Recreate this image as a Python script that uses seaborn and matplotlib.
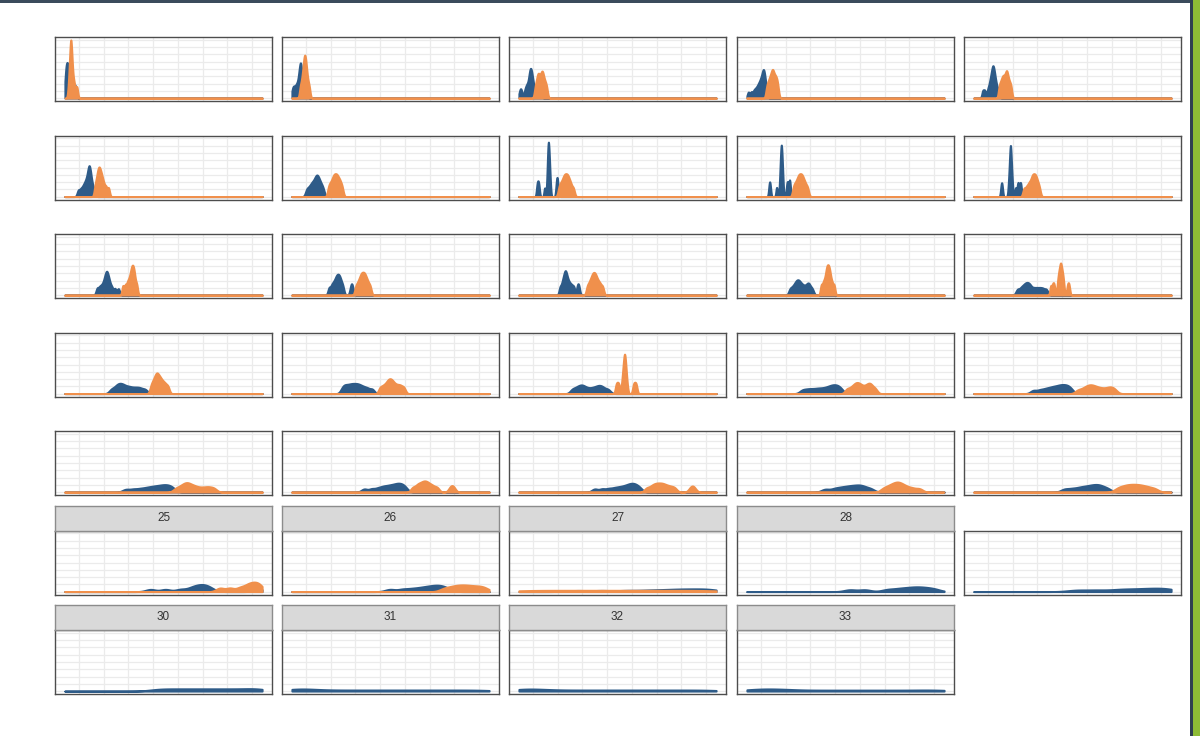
import numpy as np
import pandas as pd
import matplotlib
matplotlib.use("Agg")
import matplotlib.pyplot as plt
import matplotlib.patches as mpatches
import seaborn as sns

# panel ids and which ones show a strip label
panels = list(range(34))
labelled = [25, 26, 27, 28, 30, 31, 32, 33]

blue_vals = [
    [2.3, 2.45, 2.6, 2.75, 2.9, 3.1, 3.3, 3.6, 3.9, 4.3],
    [2.3, 2.55, 2.8, 3.05, 3.25, 3.45, 3.6, 3.7, 3.8, 3.88, 3.95, 4.02, 4.1, 4.2, 4.35, 4.55, 4.85, 5.2],
    [2.4, 2.7, 3.4, 3.7, 3.9, 4.15, 4.3, 4.4, 4.5, 4.6, 4.7, 4.8, 4.95, 5.1, 5.4, 5.9, 6.6],
    [2.5, 3.1, 3.6, 3.95, 4.25, 4.5, 4.7, 4.9, 5.05, 5.2, 5.35, 5.45, 5.55, 5.65, 5.75, 5.9, 6.1],
    [4.0, 4.4, 5.0, 5.3, 5.5, 5.65, 5.8, 5.9, 6.0, 6.1, 6.2, 6.3, 6.45, 6.6, 6.85, 7.2],
    [4.9, 5.4, 5.8, 6.1, 6.35, 6.55, 6.75, 6.9, 7.0, 7.1, 7.2, 7.3, 7.45, 7.65, 8.0],
    [5.2, 5.7, 6.1, 6.4, 6.7, 6.95, 7.15, 7.35, 7.55, 7.8, 8.1, 8.5],
    [5.85, 6.05, 6.25, 7.4, 7.9, 8.0, 8.05, 8.1, 8.15, 8.2, 8.25, 8.3, 8.4, 8.5, 9.75, 9.9, 10.05],
    [6.7, 6.9, 8.2, 8.85, 8.95, 9.05, 9.1, 9.15, 9.2, 9.25, 9.35, 9.45, 10.25, 10.45, 10.75, 10.9],
    [7.7, 7.9, 9.2, 9.35, 9.45, 9.5, 9.55, 9.6, 9.65, 9.7, 9.8, 9.95, 10.6, 11.0, 11.2, 11.5, 11.7],
    [8.7, 9.2, 9.6, 9.95, 10.2, 10.4, 10.55, 10.7, 10.85, 11.05, 11.3, 11.7, 12.3, 13.0],
    [9.7, 10.2, 10.55, 10.85, 11.1, 11.3, 11.5, 11.7, 11.9, 12.15, 12.5, 14.1, 14.4],
    [10.5, 10.9, 11.15, 11.35, 11.5, 11.65, 11.8, 12.0, 12.25, 12.55, 12.9, 13.3, 14.0, 14.3],
    [10.9, 11.4, 11.8, 12.1, 12.35, 12.6, 12.85, 13.15, 13.5, 13.9, 14.3, 14.6, 14.9, 15.4],
    [11.0, 11.7, 12.2, 12.6, 12.95, 13.3, 13.7, 14.3, 14.9, 15.5, 16.1, 16.8],
    [11.6, 12.4, 12.9, 13.3, 13.75, 14.2, 14.8, 15.4, 16.1, 16.8, 17.5, 18.4],
    [12.4, 12.9, 13.4, 13.9, 14.35, 14.8, 15.25, 15.7, 16.2, 16.8, 17.5, 18.4],
    [13.0, 13.8, 14.4, 14.9, 15.4, 16.1, 16.9, 17.6, 18.2, 18.7, 19.3, 20.2],
    [13.4, 14.4, 15.3, 16.2, 17.0, 17.8, 18.5, 19.1, 19.6, 20.1, 20.6, 21.2],
    [14.2, 15.5, 16.5, 17.3, 18.0, 18.6, 19.2, 19.7, 20.2, 20.7, 21.2, 21.8],
    [14.5, 16.0, 17.3, 18.4, 19.3, 20.1, 20.8, 21.5, 22.1, 22.7, 23.3, 24.0],
    [16.8, 18.3, 19.5, 20.4, 21.1, 21.8, 22.4, 23.0, 23.5, 24.0, 24.5, 25.1],
    [17.5, 19.0, 20.3, 21.4, 22.3, 23.1, 23.8, 24.4, 24.9, 25.4, 25.9, 26.6],
    [18.0, 19.8, 21.0, 22.0, 22.9, 23.7, 24.5, 25.2, 26.0, 27.2],
    [20.5, 22.0, 23.3, 24.3, 25.2, 26.0, 26.7, 27.4, 28.1, 29.2],
    [19.5, 22.5, 25.5, 27.5, 28.5, 29.3, 30.0, 30.7, 31.6, 41.5],
    [22.0, 24.5, 26.3, 27.8, 29.0, 30.0, 30.9, 31.7, 32.5, 33.5],
    [14.0, 19.0, 24.0, 28.0, 31.0, 33.5, 35.5, 37.5, 39.5, 41.3],
    [23.0, 26.0, 30.5, 32.5, 34.0, 35.3, 36.4, 37.5, 38.7, 40.2],
    [23.0, 27.0, 31.0, 33.5, 36.0, 38.0, 40.0, 41.7],
    [21.0, 24.0, 27.0, 30.0, 33.0, 36.0, 39.0, 41.5],
    [2.5, 4.0, 5.5, 10.0, 15.0, 20.0, 25.0, 30.0, 35.0, 40.0],
    [2.5, 4.0, 6.0, 10.0, 15.0, 20.0, 25.0, 30.0, 35.0, 40.0],
    [3.0, 5.0, 7.0, 9.0, 12.0, 17.0, 22.0, 27.0, 32.0, 37.0, 41.0],
]

orange_vals = [
    [3.0, 3.2, 3.3, 3.4, 3.4, 3.5, 3.6, 3.8, 4.1, 4.6],
    [3.9, 4.2, 4.4, 4.55, 4.65, 4.75, 4.85, 4.95, 5.05, 5.2, 5.4, 5.7],
    [5.5, 5.8, 6.0, 6.15, 6.35, 6.55, 6.75, 6.9, 7.05, 7.25, 7.5, 7.8],
    [6.2, 6.5, 6.75, 6.95, 7.15, 7.3, 7.45, 7.6, 7.8, 8.0, 8.2, 8.45],
    [7.3, 7.6, 7.85, 8.05, 8.25, 8.45, 8.65, 8.8, 8.95, 9.15, 9.4, 9.7],
    [8.3, 8.6, 8.8, 8.95, 9.1, 9.25, 9.4, 9.6, 9.8, 10.1, 10.5, 11.0],
    [9.6, 9.95, 10.25, 10.5, 10.7, 10.9, 11.1, 11.3, 11.5, 11.75, 12.0, 12.35],
    [10.3, 10.65, 10.95, 11.2, 11.4, 11.6, 11.8, 12.0, 12.2, 12.45, 12.75, 13.2],
    [11.6, 11.95, 12.25, 12.5, 12.7, 12.9, 13.1, 13.3, 13.5, 13.75, 14.05, 14.45],
    [12.3, 12.8, 13.2, 13.5, 13.8, 14.0, 14.2, 14.4, 14.6, 14.8, 15.05, 15.4],
    [13.9, 14.4, 14.8, 15.1, 15.35, 15.55, 15.7, 15.85, 16.0, 16.15, 16.35, 16.7],
    [15.1, 15.5, 15.8, 16.05, 16.25, 16.45, 16.65, 16.85, 17.05, 17.3, 17.6, 18.0],
    [16.0, 16.4, 16.7, 16.95, 17.15, 17.35, 17.55, 17.75, 18.0, 18.3, 18.65, 19.1],
    [17.2, 17.6, 17.9, 18.15, 18.3, 18.45, 18.6, 18.75, 18.9, 19.1, 19.4, 19.8],
    [17.7, 18.1, 18.4, 19.1, 19.3, 19.45, 19.6, 19.7, 19.8, 19.95, 20.1, 20.3, 21.1, 21.4],
    [19.6, 20.0, 20.3, 20.55, 20.75, 20.95, 21.2, 21.45, 21.75, 22.1, 22.5, 23.0],
    [20.0, 20.6, 21.1, 21.5, 21.8, 22.1, 22.4, 22.75, 23.2, 23.7, 24.2, 24.8],
    [21.8, 22.1, 22.4, 23.0, 23.2, 23.3, 23.4, 23.5, 23.55, 23.6, 23.7, 23.8, 24.0, 25.3, 25.6, 25.9],
    [22.4, 23.2, 23.8, 24.2, 24.6, 25.0, 25.5, 26.1, 26.6, 27.0, 27.4, 28.1],
    [23.2, 24.2, 24.9, 25.4, 25.9, 26.4, 27.0, 27.7, 28.5, 29.3, 29.9, 30.6],
    [24.6, 25.5, 26.1, 26.6, 27.0, 27.5, 28.1, 28.8, 29.7, 30.6, 31.4, 32.3],
    [26.6, 27.4, 27.9, 28.4, 28.8, 29.2, 29.6, 30.1, 30.7, 31.5, 34.2, 34.8],
    [28.0, 28.9, 29.5, 30.0, 30.5, 31.0, 31.5, 32.1, 32.8, 33.6, 36.9, 37.5],
    [29.8, 30.8, 31.5, 32.1, 32.6, 33.1, 33.7, 34.5, 35.6, 37.0],
    [31.2, 32.2, 33.0, 33.7, 34.4, 35.1, 35.8, 36.6, 37.5, 38.7],
    [33.5, 35.5, 37.5, 38.8, 39.6, 40.3, 41.0, 41.7],
    [33.0, 34.5, 35.6, 36.6, 37.6, 38.7, 39.9, 41.1],
    [4.0, 10.0, 16.0, 22.0, 28.0, 34.0, 40.0],
    [], [], [], [], [], [],
]

# smoothing bandwidth per panel (x units)
blue_bw = [0.2, 0.2, 0.22, 0.22, 0.2, 0.25, 0.3, 0.15, 0.15, 0.15,
           0.25, 0.25, 0.22, 0.3, 0.35, 0.5, 0.45, 0.5, 0.6, 0.6,
           0.7, 0.6, 0.6, 0.8, 0.8, 1.0, 1.0, 2.0, 1.2, 2.0,
           2.0, 3.0, 3.0, 3.0]
orange_bw = [0.2, 0.2, 0.22, 0.22, 0.2, 0.22, 0.25, 0.25, 0.25, 0.25,
             0.2, 0.25, 0.25, 0.2, 0.18, 0.3, 0.35, 0.2, 0.45, 0.6,
             0.6, 0.45, 0.5, 0.7, 0.8, 0.8, 1.0, 4.0, 1.0, 1.0,
             1.0, 1.0, 1.0, 1.0]

x_lo, x_hi = 2.2, 42.0
BLUE = "#2e5b88"
ORANGE = "#f0904c"

# long table
rows = []
for p in panels:
    for v in blue_vals[p]:
        rows.append((p, "blue", v))
    for v in orange_vals[p]:
        rows.append((p, "orange", v))
df = pd.DataFrame(rows, columns=["panel", "group", "value"])

sns.set_theme(style="white")
plt.rcParams["font.family"] = ["Liberation Sans", "DejaVu Sans"]

W, H = 1200, 736
fig = plt.figure(figsize=(W / 100, H / 100), dpi=100)

col_left = [55, 282, 509, 737, 964]
pw, ph = 217, 64
row_top = [37, 135.5, 234, 332.5, 431, 530.5, 630]


def fig_rect(left, top, w, h):
    return [left / W, 1 - (top + h) / H, w / W, h / H]


axes = []
for p in panels:
    r, c = divmod(p, 5)
    ax = fig.add_axes(fig_rect(col_left[c], row_top[r], pw, ph))
    for grp, color, bws in (("blue", BLUE, blue_bw), ("orange", ORANGE, orange_bw)):
        sub = df[(df.panel == p) & (df.group == grp)]
        if len(sub) < 2:
            continue
        sd = sub["value"].std()
        sns.kdeplot(data=sub, x="value", ax=ax, fill=True, color=color,
                    alpha=1, linewidth=1.4, bw_method=bws[p] / sd,
                    clip=(x_lo, x_hi), cut=1000, gridsize=1500)
    axes.append(ax)

# shared y scale
ymax = 0
for ax in axes:
    for coll in ax.collections:
        for path in coll.get_paths():
            ymax = max(ymax, path.vertices[:, 1].max())

span = x_hi - x_lo
for p, ax in zip(panels, axes):
    ax.set_xlim(x_lo - 0.05 * span, x_hi + 0.05 * span)
    ax.set_ylim(-0.05 * ymax, 1.05 * ymax)
    ax.set_xticks([5, 10, 15, 20, 25, 30, 35, 40])
    ax.set_yticks(np.linspace(0, ymax, 9))
    ax.grid(True, color="#ebebeb", linewidth=0.9)
    ax.set_axisbelow(True)
    ax.tick_params(length=0, labelbottom=False, labelleft=False)
    ax.set_xlabel("")
    ax.set_ylabel("")
    for s in ax.spines.values():
        s.set_color("#4d4d4d")
        s.set_linewidth(1.0)
    if p in labelled:
        r, c = divmod(p, 5)
        sax = fig.add_axes(fig_rect(col_left[c], row_top[r] - 25, pw, 25))
        sax.set_facecolor("#d9d9d9")
        sax.set_xticks([])
        sax.set_yticks([])
        for s in sax.spines.values():
            s.set_color("#8c8c8c")
            s.set_linewidth(1.0)
        sax.text(0.5, 0.5, str(p), ha="center", va="center",
                 fontsize=8.5, color="#333333", transform=sax.transAxes)

# page frame: dark top rule and green right edge
fig.add_artist(mpatches.Rectangle((0, 1 - 3 / H), 1191 / W, 3 / H,
                                  transform=fig.transFigure, color="#3b4b5c", lw=0))
fig.add_artist(mpatches.Rectangle((1190 / W, 0), 3 / W, 1,
                                  transform=fig.transFigure, color="#2f3f50", lw=0))
fig.add_artist(mpatches.Rectangle((1193 / W, 0), 7 / W, 1,
                                  transform=fig.transFigure, color="#8dbb35", lw=0))

fig.savefig("out.png", dpi=100)
